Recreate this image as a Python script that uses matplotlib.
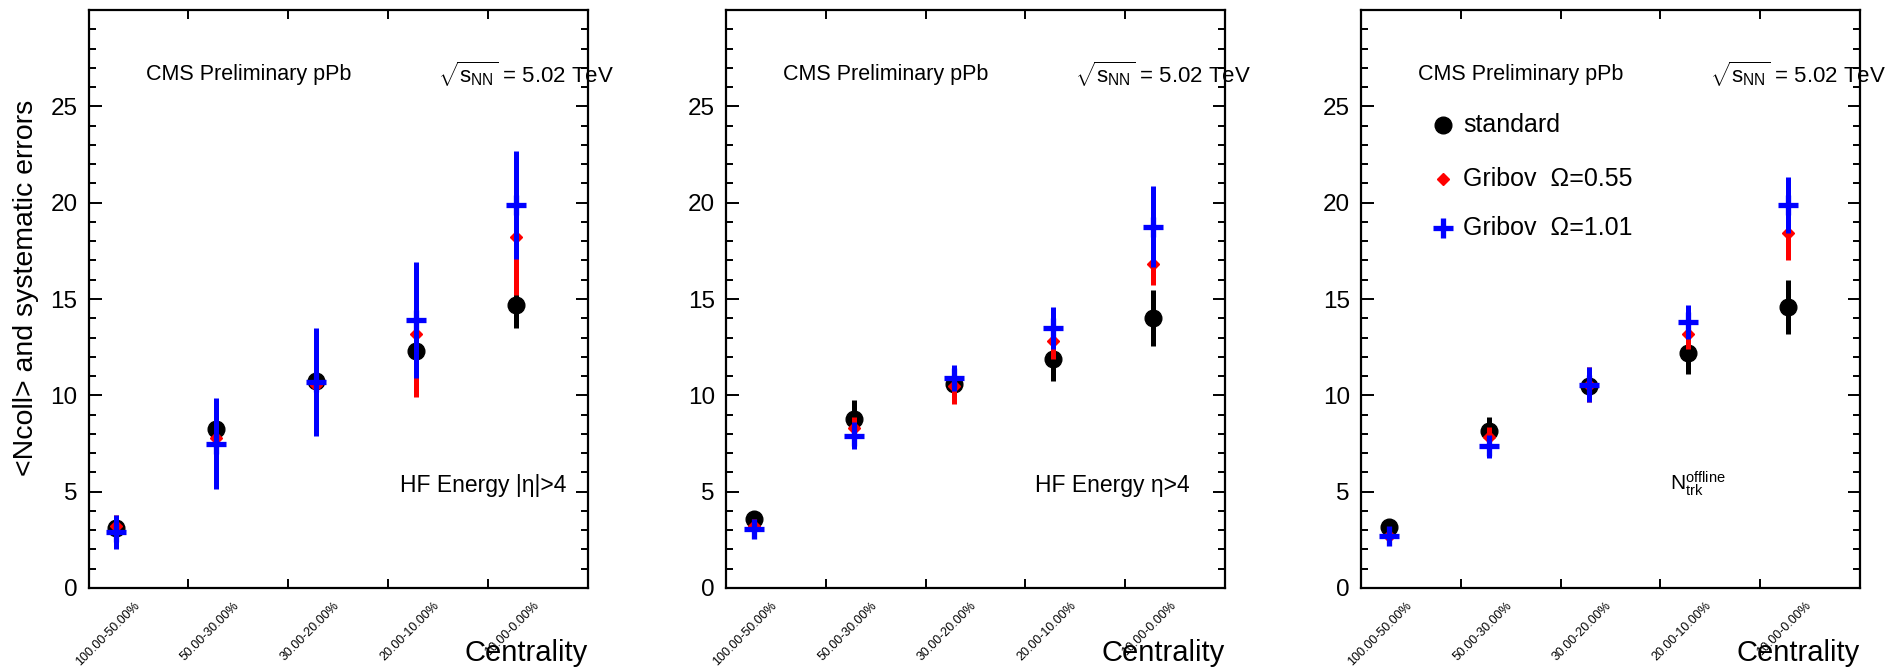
import matplotlib
matplotlib.use("Agg")
import matplotlib.pyplot as plt
import numpy as np

plt.rcParams['font.family'] = ['Liberation Sans', 'DejaVu Sans']
plt.rcParams['mathtext.fontset'] = 'custom'
plt.rcParams['mathtext.rm'] = 'Liberation Sans'
plt.rcParams['mathtext.it'] = 'Liberation Sans:italic'

# centrality bins (x axis labels)
bins = ['100.00-50.00%', '50.00-30.00%', '30.00-20.00%', '20.00-10.00%', '10.00-0.00%']

# one row per panel: HF |eta|>4, HF eta>4, Ntrk offline
std_vals = [[3.1, 8.25, 10.75, 12.3, 14.7],
            [3.6, 8.75, 10.6, 11.9, 14.0],
            [3.15, 8.15, 10.5, 12.2, 14.6]]
std_errs = [[0.5, 0.8, 1.0, 1.0, 1.2],
            [0.4, 1.0, 0.7, 1.15, 1.45],
            [0.4, 0.7, 0.8, 1.1, 1.4]]
g055_vals = [[3.2, 7.8, 10.55, 13.2, 18.2],
             [3.2, 8.3, 10.5, 12.8, 16.8],
             [2.7, 7.85, 10.55, 13.2, 18.4]]
g055_errs = [[0.6, 1.0, 1.5, 3.3, 3.0],
             [0.4, 0.6, 0.95, 0.9, 1.05],
             [0.3, 0.5, 0.9, 0.8, 1.4]]
g101_vals = [[2.9, 7.5, 10.7, 13.9, 19.9],
             [3.05, 7.9, 10.9, 13.5, 18.75],
             [2.7, 7.35, 10.55, 13.8, 19.9]]
g101_errs = [[0.9, 2.35, 2.8, 3.0, 2.8],
             [0.35, 0.7, 0.7, 1.1, 2.1],
             [0.3, 0.6, 0.9, 0.9, 1.45]]

panel_labels = [u'HF Energy |\u03b7|>4', u'HF Energy \u03b7>4', r'N$_{\rm trk}^{\rm offline}$']
legend_labels = ['standard', u'Gribov  \u03a9=0.55', u'Gribov  \u03a9=1.01']

W, H = 1901, 672
fig = plt.figure(figsize=(W / 100, H / 100), dpi=100)

lefts = [88.5, 726, 1361]
ax_w = 499
ax_top, ax_bot = 10, 588

x = np.arange(len(bins)) + 0.28

styles = [dict(fmt='o', color='black', ms=12),
          dict(fmt='D', color='red', ms=6),
          dict(fmt='+', color='blue', ms=15, mew=3.8)]

for p in range(3):
    ax = fig.add_axes([lefts[p] / W, 1 - ax_bot / H, ax_w / W, (ax_bot - ax_top) / H])
    series = [(std_vals[p], std_errs[p]), (g055_vals[p], g055_errs[p]), (g101_vals[p], g101_errs[p])]
    for k, (v, e) in enumerate(series):
        ax.errorbar(x, v, yerr=e, elinewidth=3.6, capsize=0, zorder=3 + k, **styles[k])

    ax.set_xlim(0, len(bins))
    ax.set_ylim(0, 30)
    ax.set_yticks([0, 5, 10, 15, 20, 25])
    ax.set_yticks(np.arange(0, 30, 1), minor=True)
    ax.set_yticklabels(['0', '5', '10', '15', '20', '25'], fontsize=17.5)
    ax.set_xticks(np.arange(1, len(bins)))
    ax.set_xticklabels([])
    ax.tick_params(axis='both', which='both', direction='in', top=True, right=True, width=1.4)
    ax.tick_params(axis='y', which='major', length=9, pad=8)
    ax.tick_params(axis='y', which='minor', length=5)
    ax.tick_params(axis='x', which='major', length=6.5)
    for s in ax.spines.values():
        s.set_linewidth(1.6)

    for i, lab in enumerate(bins):
        ax.text(i + 0.45, -0.6, lab, rotation=45, ha='right', va='top',
                rotation_mode='anchor', fontsize=9)

    ax.text(1.0, -0.113, 'Centrality', transform=ax.transAxes, ha='right', va='center', fontsize=21)

    ax.text(0.115, 0.889, 'CMS Preliminary pPb', transform=ax.transAxes, fontsize=15.5, va='center')
    ax.text(0.70, 0.889, r'$\sqrt{\mathrm{s}_{\mathrm{NN}}}$ = 5.02 TeV', transform=ax.transAxes,
            fontsize=16, va='center', clip_on=False)

    if p == 0:
        ax.text(0.958, 0.178, panel_labels[p], transform=ax.transAxes,
                ha='right', va='center', fontsize=16.5)
        ax.set_ylabel('<Ncoll> and systematic errors', fontsize=20.5, labelpad=10)
        ax.yaxis.set_label_coords(-0.1, 0.52)
    elif p == 1:
        ax.text(0.93, 0.178, panel_labels[p], transform=ax.transAxes,
                ha='right', va='center', fontsize=16.5)
    else:
        ax.text(0.62, 0.18, panel_labels[p], transform=ax.transAxes,
                ha='left', va='center', fontsize=15)
        leg_y = [0.801, 0.708, 0.622]
        for k in range(3):
            st = styles[k]
            ax.plot([0.164], [leg_y[k]], marker=st['fmt'], color=st['color'], ms=st['ms'],
                    mew=st.get('mew', 1), ls='none', transform=ax.transAxes, clip_on=False)
            ax.text(0.205, leg_y[k], legend_labels[k], transform=ax.transAxes,
                    va='center', ha='left', fontsize=18)

fig.savefig('out.png', dpi=100)
